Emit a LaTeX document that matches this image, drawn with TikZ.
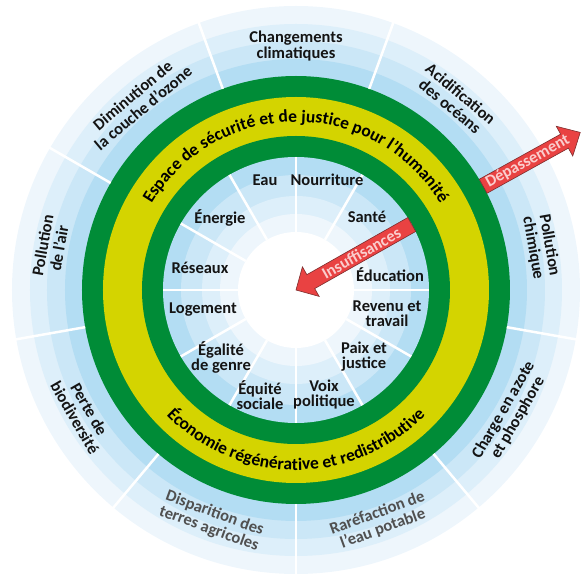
\documentclass[tikz,border=0pt]{standalone}
\usepackage{fontspec}
\setmainfont{Carlito}
\usetikzlibrary{decorations.text}
\definecolor{bandA}{RGB}{238,246,252}
\definecolor{bandB}{RGB}{221,239,250}
\definecolor{bandC}{RGB}{203,231,247}
\definecolor{bandD}{RGB}{179,221,243}
\definecolor{dgreen}{RGB}{0,140,55}
\definecolor{dyellow}{RGB}{212,212,0}
\definecolor{arrred}{RGB}{233,66,66}
\definecolor{arredge}{RGB}{125,45,45}
\definecolor{arrtext}{RGB}{250,205,205}
\definecolor{lblgray}{RGB}{80,80,80}
\begin{document}
\begin{tikzpicture}[x=1pt,y=1pt,
  lbl/.style={font=\fontsize{16.5}{15}\selectfont\bfseries, align=center, inner sep=0pt, text=black!92},
  olbl/.style={lbl, font=\fontsize{16.5}{16.5}\selectfont\bfseries},
  glbl/.style={olbl, text=lblgray},
  sep/.style={white, line width=2.5pt},
  arrowbody/.style={fill=arrred, draw=arredge, line width=0.6pt, line join=miter},
  arrlabel/.style={font=\fontsize{16.5}{16.5}\selectfont\bfseries, text=arrtext, inner sep=0pt}]
\useasboundingbox (-296,-285) rectangle (286,290);
% outer planetary ring
\fill[bandA] (0,0) circle[radius=284];
\fill[bandB] (0,0) circle[radius=266];
\fill[bandC] (0,0) circle[radius=249];
\fill[bandD] (0,0) circle[radius=231];
% doughnut
\fill[dgreen] (0,0) circle[radius=214];
\fill[dyellow] (0,0) circle[radius=193];
\fill[dgreen] (0,0) circle[radius=154];
% inner social ring
\fill[bandD] (0,0) circle[radius=133];
\fill[bandC] (0,0) circle[radius=115];
\fill[bandB] (0,0) circle[radius=94];
\fill[bandA] (0,0) circle[radius=76];
\fill[white] (0,0) circle[radius=58];
% separators
\foreach \a in {110,70,30,-10,-50,-90,-130,-170,150}
  \draw[sep] (\a:214) -- (\a:286);
\foreach \a in {0,30,...,330}
  \draw[sep] (\a:58) -- (\a:133);
% inner labels
\node[lbl] (eau) at (-31,110) {Eau};
\node[lbl] (nour) at (31,110) {Nourriture};
\node[lbl] (sante) at (71,73) {Santé};
\node[lbl] (educ) at (94,15) {Éducation};
\node[lbl] (rev) at (91,-24) {Revenu et\\travail};
\node[lbl] (paix) at (68,-67) {Paix et\\justice};
\node[lbl] (voix) at (28,-105) {Voix\\politique};
\node[lbl] (equi) at (-36,-105) {Équité\\sociale};
\node[lbl] (egal) at (-75,-67) {Égalité\\de genre};
\node[lbl] (loge) at (-93,-20) {Logement};
\node[lbl] (res) at (-96,22) {Réseaux};
\node[lbl] (ener) at (-76,72) {Énergie};
% outer labels
\node[olbl] (clim) at (90:244) {Changements\\climatiques};
\node[olbl, rotate=-40] (acid) at (50:248) {Acidification\\des océans};
\node[olbl, rotate=-80] (chim) at (10:249) {Pollution\\chimique};
\node[olbl, rotate=60] (azote) at (-30:248) {Charge en azote\\et phosphore};
\node[glbl, rotate=20] (eaup) at (-70:246) {Raréfaction de\\l'eau potable};
\node[glbl, rotate=-20] (terres) at (-110:246) {Disparition des\\terres agricoles};
\node[olbl, rotate=-60] (bio) at (-150:247) {Perte de\\biodiversité};
\node[olbl, rotate=80] (air) at (170:249) {Pollution\\de l'air};
\node[olbl, rotate=40] (ozone) at (130:246) {Diminution de\\la couche d'ozone};
% band texts
\path[decorate, decoration={text along path, text align=center,
  text={|\fontsize{17.5}{17.5}\selectfont\bfseries|Espace de sécurité et de justice pour l'humanité}}]
  (160:168) arc[start angle=160, end angle=20, radius=168];
\path[decorate, decoration={text along path, text align=center,
  text={|\fontsize{17.5}{17.5}\selectfont\bfseries|Économie régénérative et redistributive}}]
  (-150:180) arc[start angle=-150, end angle=-30, radius=180];
% arrows
\begin{scope}[rotate=29]
  \draw[arrowbody] (214,-8) -- (307,-8) -- (307,-17) -- (325,0) -- (307,17) -- (307,8) -- (214,8) -- cycle;
  \node[arrlabel, rotate=29] (dep) at (265,0) {Dépassement};
\end{scope}
\begin{scope}[rotate=29.5]
  \draw[arrowbody] (133,-8) -- (17,-8) -- (17,-17) -- (0,0) -- (17,17) -- (17,8) -- (133,8) -- cycle;
  \node[arrlabel, rotate=29.5] (ins) at (75,0) {Insuffisances};
\end{scope}
\end{tikzpicture}
\end{document}
